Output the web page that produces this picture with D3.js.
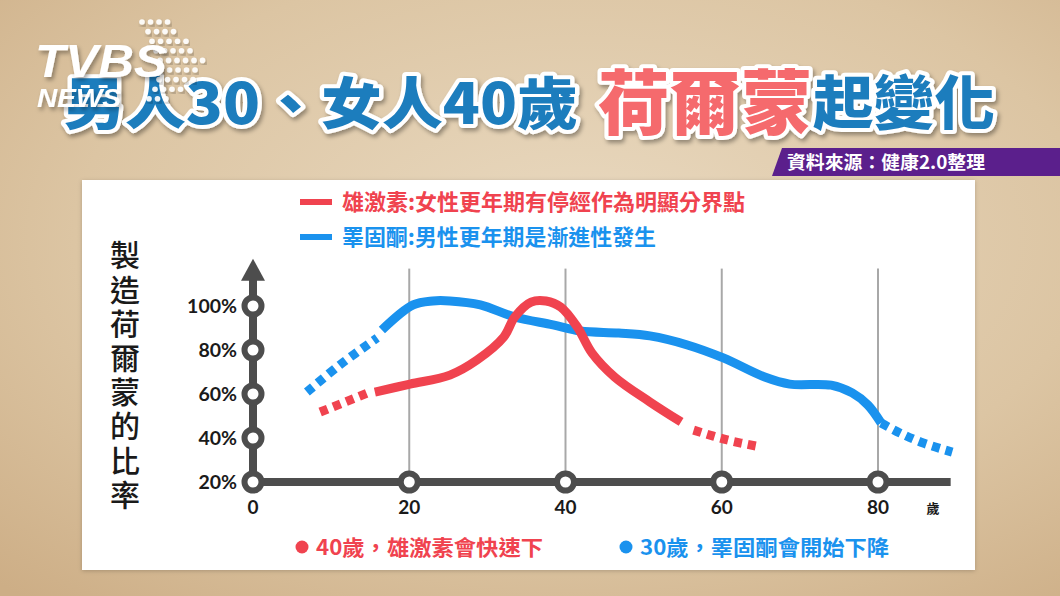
<!DOCTYPE html>
<html><head><meta charset="utf-8">
<script src="https://cdn.jsdelivr.net/npm/d3@7"></script>
<style>html,body{margin:0;padding:0;background:#d8bf9c;} svg{display:block}</style>
</head><body>
<svg id="c" width="1060" height="596"></svg>
<script>
// ---------- data ----------
const yTicks = [20, 40, 60, 80, 100];
const yTickLabels = ["20%", "40%", "60%", "80%", "100%"];
const xTicks = [0, 20, 40, 60, 80];
const xTickLabels = ["0", "20", "40", "60", "80"];
const xUnit = "歲";
const yTitle = "製造荷爾蒙的比率";
const seriesNames = ["雄激素:女性更年期有停經作為明顯分界點", "睪固酮:男性更年期是漸進性發生"];
const notes = ["40歲，雄激素會快速下", "30歲，睪固酮會開始下降"];
const titleA = "男人30、女人40歲";
const titleB = "荷爾蒙";
const titleC = "起變化";
const sourceText = "資料來源：健康2.0整理";

// [age, percent]
const redDotStart = [[8.6, 51.8], [14.7, 60.5]];
const redSolid = [[15.6, 60.9], [20.1, 64.5], [25.2, 68.6], [28.7, 75.5], [32.1, 85.9], [33.5, 95], [35.6, 101.8], [37.5, 102.3], [39.4, 99.5], [41.5, 90.5], [43.4, 78.6], [46.3, 67.7], [50.8, 56.4], [54.8, 47.3]];
const redDotEnd = [[56.4, 43.6], [60.7, 39.1], [65, 35.9]];
const blueDotStart = [[6.9, 60.9], [11.1, 73.2], [15.9, 85.5]];
const blueSolid = [[16.5, 89.1], [20.5, 100.5], [23.0, 102.3], [25.2, 102.3], [29.1, 100.5], [33.5, 95], [38.4, 91.4], [41.9, 88.6], [46.8, 87.7], [50.8, 86.4], [55.6, 82.3], [60.2, 76.4], [65.5, 67.7], [68.7, 64.5], [74, 64], [76.7, 60.5], [78.7, 55], [80.4, 46.8]];
const blueDotEnd = [[80.4, 46.8], [82.8, 42.3], [85.8, 37.7], [89.5, 33.6]];

// ---------- setup ----------
const RED = "#f0434f", BLUE = "#1a92ee", AX = "#4d4d4d";
const svg = d3.select("#c");
const defs = svg.append("defs");
const bg = defs.append("radialGradient").attr("id", "bg").attr("cx", "55%").attr("cy", "40%").attr("r", "80%");
bg.append("stop").attr("offset", "0%").attr("stop-color", "#e9d9c0");
bg.append("stop").attr("offset", "60%").attr("stop-color", "#dcc5a3");
bg.append("stop").attr("offset", "100%").attr("stop-color", "#cdae86");
const sh = defs.append("filter").attr("id", "sh").attr("x", "-10%").attr("y", "-10%").attr("width", "130%").attr("height", "140%");
sh.append("feDropShadow").attr("dx", 2).attr("dy", 3).attr("stdDeviation", 2).attr("flood-color", "#000").attr("flood-opacity", 0.35);
const psh = defs.append("filter").attr("id", "psh").attr("x", "-5%").attr("y", "-5%").attr("width", "110%").attr("height", "110%");
psh.append("feDropShadow").attr("dx", 0).attr("dy", 1).attr("stdDeviation", 2).attr("flood-color", "#000").attr("flood-opacity", 0.2);

svg.append("rect").attr("width", 1060).attr("height", 596).attr("fill", "url(#bg)");

// panel
svg.append("rect").attr("x", 82).attr("y", 180).attr("width", 893).attr("height", 390).attr("fill", "#fff").attr("filter", "url(#psh)");

// ---------- title ----------
const tf = "'Noto Sans CJK TC', 'Noto Sans CJK SC', sans-serif";
function titleText(t, x, y, size, fill, len) {
  svg.append("text").attr("x", x).attr("y", y).text(t)
    .attr("font-family", tf).attr("font-weight", 900).attr("font-size", size)
    .attr("fill", fill).attr("stroke", "#fff").attr("stroke-width", 8).attr("stroke-linejoin", "round")
    .attr("paint-order", "stroke").attr("filter", "url(#sh)")
    .attr("textLength", len).attr("lengthAdjust", "spacingAndGlyphs");
}
titleText(titleA, 64, 124, 56, "#1f7dbd", 514);
titleText(titleB, 598, 129, 70, "#f56a6d", 214);
titleText(titleC, 813, 124, 58, "#1f7dbd", 182);

// ---------- logo (drawn over title) ----------
const logo = svg.append("g");
const dotRows = [[142, 167], [148, 176], [152, 186], [156, 194], [160, 203], [161, 198], [159, 193], [155, 182], [149, 169]];
dotRows.forEach((r, i) => {
  const yy = 22 + i * 9.6;
  for (let xx = r[0]; xx <= r[1] + 0.5; xx += 8.5) {
    logo.append("circle").attr("cx", xx).attr("cy", yy).attr("r", 2.8).attr("fill", "#fff").attr("opacity", 0.92).attr("filter", "url(#sh)");
  }
});
logo.append("text").attr("x", 35).attr("y", 77).text("TVBS")
  .attr("font-family", "Liberation Sans, Arial").attr("font-weight", 900).attr("font-style", "italic")
  .attr("font-size", 46).attr("fill", "#fff").attr("filter", "url(#sh)")
  .attr("textLength", 132).attr("lengthAdjust", "spacingAndGlyphs");
logo.append("text").attr("x", 37).attr("y", 107).text("NEWS")
  .attr("font-family", "Liberation Sans, Arial").attr("font-weight", 700).attr("font-style", "italic")
  .attr("font-size", 26).attr("fill", "#fff").attr("filter", "url(#sh)")
  .attr("textLength", 84).attr("lengthAdjust", "spacingAndGlyphs");

// source banner
svg.append("path").attr("d", "M782,148 L1060,148 L1060,176 L772,176 Z").attr("fill", "#5b1f8c");
svg.append("text").attr("x", 787).attr("y", 169).text(sourceText)
  .attr("font-family", tf).attr("font-weight", 700).attr("font-size", 18).attr("fill", "#fff")
  .attr("textLength", 198).attr("lengthAdjust", "spacingAndGlyphs");

// ---------- scales ----------
const x = d3.scaleLinear().domain([0, 80]).range([253, 878]);
const y = d3.scaleLinear().domain([20, 100]).range([482, 306]);

// gridlines
svg.append("g").selectAll("line").data(xTicks.filter(d => d > 0)).join("line")
  .attr("x1", d => x(d)).attr("x2", d => x(d)).attr("y1", y(117)).attr("y2", y(20))
  .attr("stroke", "#a8a8a8").attr("stroke-width", 2);

// axes
svg.append("line").attr("x1", x(0)).attr("x2", x(0)).attr("y1", y(20)).attr("y2", y(112))
  .attr("stroke", AX).attr("stroke-width", 8);
svg.append("path").attr("d", `M${x(0)},${y(121.5)} L${x(0) + 12},${y(111.5)} L${x(0) - 12},${y(111.5)} Z`).attr("fill", AX);
svg.append("line").attr("x1", x(0)).attr("x2", x(89.3)).attr("y1", y(20)).attr("y2", y(20))
  .attr("stroke", AX).attr("stroke-width", 8);

// lines
const line = d3.line().x(d => x(d[0])).y(d => y(d[1])).curve(d3.curveCatmullRom.alpha(0.5));
function drawSeries(pts, color, dashed) {
  svg.append("path").datum(pts).attr("d", line).attr("fill", "none").attr("stroke", color)
    .attr("stroke-width", 9).attr("stroke-linecap", "butt").attr("stroke-linejoin", "round")
    .attr("stroke-dasharray", dashed ? "8,6" : null);
}
drawSeries(blueDotStart, BLUE, true);
drawSeries(blueSolid, BLUE, false);
drawSeries(blueDotEnd, BLUE, true);
drawSeries(redDotStart, RED, true);
drawSeries(redSolid, RED, false);
drawSeries(redDotEnd, RED, true);

// tick circles
svg.append("g").selectAll("circle").data(yTicks).join("circle")
  .attr("cx", x(0)).attr("cy", d => y(d)).attr("r", 8.5)
  .attr("fill", "#fff").attr("stroke", AX).attr("stroke-width", 6);
svg.append("g").selectAll("circle").data(xTicks.filter(d => d > 0)).join("circle")
  .attr("cx", d => x(d)).attr("cy", y(20)).attr("r", 8.5)
  .attr("fill", "#fff").attr("stroke", AX).attr("stroke-width", 6);

// tick labels
const nf = "Lato, 'Noto Sans', sans-serif";
svg.append("g").selectAll("text").data(yTicks).join("text")
  .attr("x", 237).attr("y", d => y(d) + 7).attr("text-anchor", "end")
  .text((d, i) => yTickLabels[i]).attr("font-family", nf).attr("font-weight", 700)
  .attr("font-size", 19.5).attr("fill", "#1a1a1a");
svg.append("g").selectAll("text").data(xTicks).join("text")
  .attr("x", d => x(d)).attr("y", 514).attr("text-anchor", "middle")
  .text((d, i) => xTickLabels[i]).attr("font-family", nf).attr("font-weight", 700)
  .attr("font-size", 19).attr("fill", "#1a1a1a");
svg.append("text").attr("x", 933).attr("y", 513).attr("text-anchor", "middle").text(xUnit)
  .attr("font-family", tf).attr("font-weight", 700).attr("font-size", 13).attr("fill", "#1a1a1a");

// y title (vertical)
svg.append("text").attr("x", 125).attr("y", 240).text(yTitle)
  .attr("writing-mode", "vertical-rl").attr("letter-spacing", 4.2)
  .attr("font-family", tf).attr("font-weight", 500).attr("font-size", 30).attr("fill", "#1a1a1a");

// legend
const lg = svg.append("g");
const legLens = [403, 314];
[RED, BLUE].forEach((c, i) => {
  const ly = 202 + i * 35;
  lg.append("line").attr("x1", 300).attr("x2", 332).attr("y1", ly).attr("y2", ly).attr("stroke", c).attr("stroke-width", 6);
  lg.append("text").attr("x", 342).attr("y", ly + 8).text(seriesNames[i])
    .attr("font-family", tf).attr("font-weight", 700).attr("font-size", 22).attr("fill", c)
    .attr("textLength", legLens[i]).attr("lengthAdjust", "spacingAndGlyphs");
});

// notes
[[RED, 302, notes[0], 227], [BLUE, 626, notes[1], 249]].forEach(([c, nx, t, len]) => {
  svg.append("circle").attr("cx", nx).attr("cy", 547).attr("r", 6.5).attr("fill", c);
  svg.append("text").attr("x", nx + 14).attr("y", 555).text(t)
    .attr("font-family", tf).attr("font-weight", 700).attr("font-size", 21).attr("fill", c)
    .attr("textLength", len).attr("lengthAdjust", "spacingAndGlyphs");
});
</script>
</body></html>
